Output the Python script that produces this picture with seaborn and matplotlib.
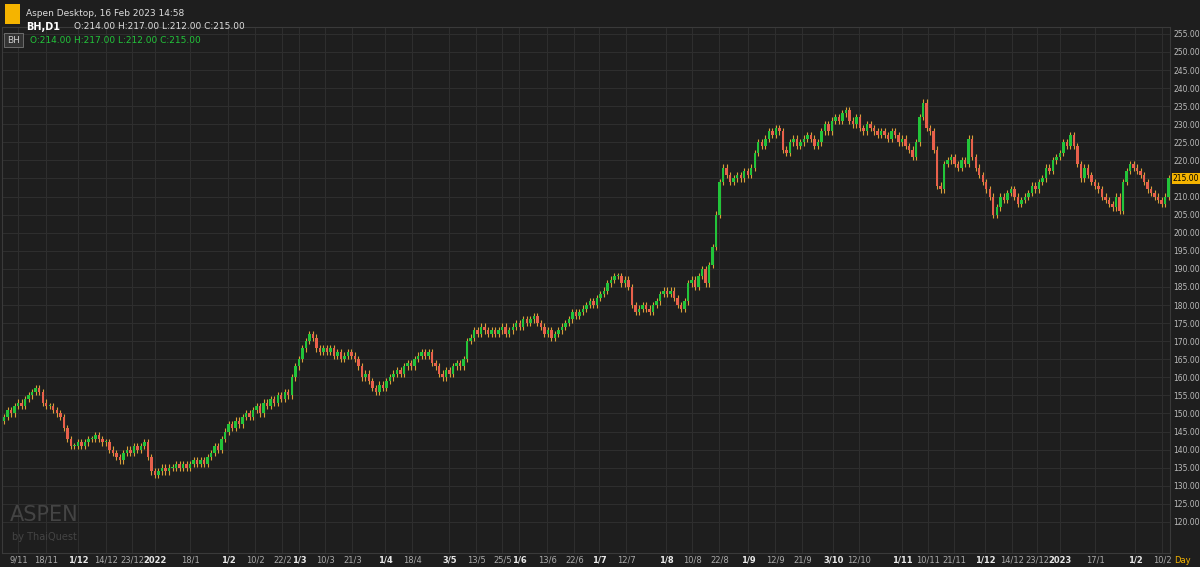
import numpy as np
import pandas as pd
import seaborn as sns
import matplotlib.pyplot as plt
from matplotlib.patches import Rectangle

closes = [
    149,151,150,152,153,152,154,155,156,157, 156,153,152,152,151,150,149,146,143,141,
    141,142,141,142,143,143,144,143,142,142, 140,139,138,137,139,140,139,141,140,141,
    142,138,134,133,134,135,134,135,135,136, 135,136,135,136,137,136,137,136,138,139,
    141,140,143,145,147,146,148,147,149,150, 149,151,152,150,153,152,154,153,155,154,
    156,155,160,163,165,168,170,172,171,168, 167,168,167,168,166,167,165,166,167,166,
    165,163,160,161,159,157,156,158,157,159, 160,161,162,161,163,164,163,165,166,167,
    166,167,164,163,161,160,162,161,163,164, 163,165,170,171,173,172,174,173,172,173,
    172,173,174,172,173,174,175,174,176,175, 176,177,175,174,172,173,171,172,173,174,
    175,176,178,177,178,179,180,181,180,182, 183,184,186,187,188,188,186,187,185,180,
    178,179,180,179,178,180,181,183,184,183, 184,182,180,179,181,186,187,185,188,190,
    186,191,196,205,214,218,216,214,215,216, 215,217,216,218,222,225,224,226,228,227,
    229,228,223,222,225,226,224,225,226,227, 226,224,225,228,230,228,231,232,231,233,
    234,231,230,232,229,228,230,229,228,227, 228,227,226,228,227,225,226,224,223,221,
    225,232,236,229,228,223,213,212,219,220, 221,219,218,220,219,226,221,218,216,214,
    212,210,205,207,210,209,211,212,210,208, 209,210,211,213,212,214,215,218,217,220,
    221,222,225,224,227,224,219,215,218,216, 214,213,212,210,209,208,207,210,206,214,
    217,219,218,217,216,214,212,211,210,209, 208,210,215,
]
opens = [148] + closes[:-1]
tick_labels = ["9/11","18/11","1/12","14/12","23/12","2022","18/1","1/2","10/2","22/2","1/3",
               "10/3","21/3","1/4","18/4","3/5","13/5","25/5","1/6","13/6","22/6","1/7","12/7",
               "1/8","10/8","22/8","1/9","12/9","21/9","3/10","12/10","1/11","10/11","21/11",
               "1/12","14/12","23/12","2023","17/1","1/2","10/2"]
tick_px = [16,44,76,104,130,153,188,226,253,280,297,323,350,383,410,447,474,500,517,545,572,
           597,624,664,690,717,746,773,800,831,857,900,926,952,983,1010,1035,1058,1093,1133,1160]
bold = {"1/12","2022","1/2","1/3","1/4","3/5","1/6","1/7","1/8","1/9","3/10","1/11","2023"}

df = pd.DataFrame({"open": opens, "close": closes})
df["x"] = np.arange(len(df))

sns.set_style("dark")
bg = "#1e1e1e"
fig = plt.figure(figsize=(12, 5.67), dpi=100, facecolor=bg)
ax = fig.add_axes([0.002, 14/567, 1168/1200, 526/567], facecolor=bg)

n = len(df)
px_per = 1168 / n
up, dn, wick = "#22c43a", "#e8604c", "#d8a03a"
for _, r in df.iterrows():
    lo, hi = min(r.open, r.close), max(r.open, r.close)
    ax.vlines(r.x, lo - 0.9, hi + 0.9, color=wick, lw=0.8, zorder=2)
    col = up if r.close >= r.open else dn
    h = max(hi - lo, 0.3)
    ax.add_patch(Rectangle((r.x - 0.35, lo), 0.7, h, color=col, zorder=3, lw=0))

ax.set_xlim(-0.5, n - 0.5)
ax.set_ylim(111.4, 256.9)
ax.yaxis.tick_right()
yt = np.arange(120, 256, 5)
ax.set_yticks(yt)
ax.set_yticklabels([f"{v:.2f}" for v in yt], color="#bbbbbb", fontsize=5.5)
ax.set_xticks([p / px_per - 0.5 for p in tick_px])
ax.set_xticklabels(tick_labels, fontsize=6, color="#aaaaaa")
for t in ax.get_xticklabels():
    if t.get_text() in bold:
        t.set_color("#e8e8e8"); t.set_fontweight("bold")
ax.tick_params(length=0, pad=2)
ax.grid(True, color="#2e2e2e", lw=0.8)
for s in ax.spines.values():
    s.set_color("#3a3a3a")

ax.text(1.002, (215 - 111.4) / (256.9 - 111.4), "215.00", transform=ax.transAxes, fontsize=5.5,
        va="center", ha="left", color="black",
        bbox=dict(boxstyle="square,pad=0.15", fc="#f5b400", ec="none"))
fig.text(0.985, 0.012, "Day", color="#f5b400", fontsize=6, ha="center", va="center")

fig.text(0.022, 0.985, "Aspen Desktop, 16 Feb 2023 14:58", color="#dddddd", fontsize=6.5, va="top")
fig.text(0.022, 0.962, "BH,D1", color="white", fontsize=7, va="top", fontweight="bold")
fig.text(0.062, 0.962, "O:214.00 H:217.00 L:212.00 C:215.00", color="#dddddd", fontsize=6.5, va="top")
fig.patches.append(Rectangle((0.004, 0.958), 0.013, 0.035, transform=fig.transFigure,
                             fc="#f5b400", ec="none"))
ax.text(0.004, 0.975, "BH", transform=ax.transAxes, color="#cccccc", fontsize=6.5, va="center",
        bbox=dict(boxstyle="square,pad=0.3", fc="#333333", ec="#777777", lw=0.6))
ax.text(0.024, 0.975, "O:214.00 H:217.00 L:212.00 C:215.00", transform=ax.transAxes,
        color="#22c43a", fontsize=6.5, va="center")
ax.text(0.006, 0.06, "ASPEN", transform=ax.transAxes, color="#444444", fontsize=15)
ax.text(0.008, 0.025, "by ThaiQuest", transform=ax.transAxes, color="#444444", fontsize=7)

fig.savefig("out.png", dpi=100, facecolor=bg)
